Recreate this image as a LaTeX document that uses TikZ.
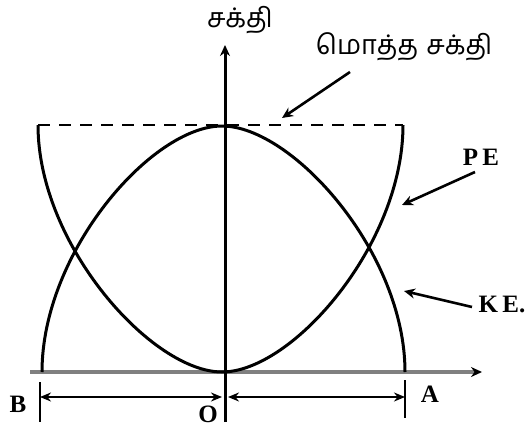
\documentclass[tikz,border=0pt]{standalone}
\usepackage{fontspec}
\setmainfont{Liberation Serif}
\newfontfamily\tamilfont[Script=Tamil]{Hind Madurai}
\usetikzlibrary{arrows.meta}
\begin{document}
\begin{tikzpicture}[x=1pt,y=-1pt,
  curve/.style={line width=3pt},
  lab/.style={font=\bfseries\fontsize{25}{28}\selectfont, inner sep=0pt},
  tam/.style={font=\tamilfont\fontsize{27}{30}\selectfont, inner sep=0pt},
  ptr/.style={line width=2.6pt, -{Stealth[length=11pt,width=10pt]}},
  dimarrow/.style={line width=2.4pt, {Stealth[length=11pt,width=9pt]}-{Stealth[length=11pt,width=9pt]}},
  tick/.style={line width=2.6pt}]
\useasboundingbox (0,0) rectangle (530,428);
% baseline (x axis)
\coordinate (xl) at (30,372);
\coordinate (xr) at (482,372);
\draw[line width=3.2pt, black!50, -{Stealth[length=11pt,width=10pt,color=black]}] (xl) -- (xr);
% vertical axis
\coordinate (ob) at (225,422);
\coordinate (ot) at (225,45);
\draw[line width=3pt, -{Stealth[length=11pt,width=10pt]}] (ob) -- (ot);
% total energy dashed line
\coordinate (tl) at (38,125);
\coordinate (tr) at (403,125);
\draw[line width=2.4pt, dash pattern=on 12pt off 9pt] (tl) -- (tr);
% kinetic energy curve
\draw[curve] (42,372) .. controls (42,252) and (152,126) .. (222,126)
  .. controls (292,126) and (405,252) .. (405,372);
% potential energy curve
\draw[curve] (tl) .. controls (38,245) and (152,372) .. (222,372)
  .. controls (292,372) and (403,245) .. (tr);
% dimension ticks
\coordinate (bt) at (40,382);
\coordinate (bb) at (40,422);
\coordinate (at) at (405,380);
\coordinate (ab) at (405,418);
\draw[tick] (bt) -- (bb);
\draw[tick] (at) -- (ab);
\coordinate (bm) at (40,397);
\coordinate (om1) at (222,397);
\coordinate (om2) at (228,397);
\coordinate (am) at (405,397);
\draw[dimarrow] (bm) -- (om1);
\draw[dimarrow] (om2) -- (am);
% labels
\node[lab] (B) at (18,404) {B};
\node[lab] (A) at (430,394) {A};
\node[lab] (O) at (208,414) {O};
\node[tam] (sakthi) at (240,20) {சக்தி};
\node[tam] (total) at (404,47) {மொத்த\hspace{8pt}சக்தி};
\node[lab] (PE) at (481,157) {P\,E};
\node[lab] (KE) at (502,304) {K\,E.};
% pointers
\coordinate (tot1) at (350,72);
\coordinate (tot2) at (282,118);
\draw[ptr] (tot1) -- (tot2);
\coordinate (pe1) at (475,172);
\coordinate (pe2) at (402,205);
\draw[ptr] (pe1) -- (pe2);
\coordinate (ke1) at (472,307);
\coordinate (ke2) at (404,291);
\draw[ptr] (ke1) -- (ke2);
\end{tikzpicture}
\end{document}
